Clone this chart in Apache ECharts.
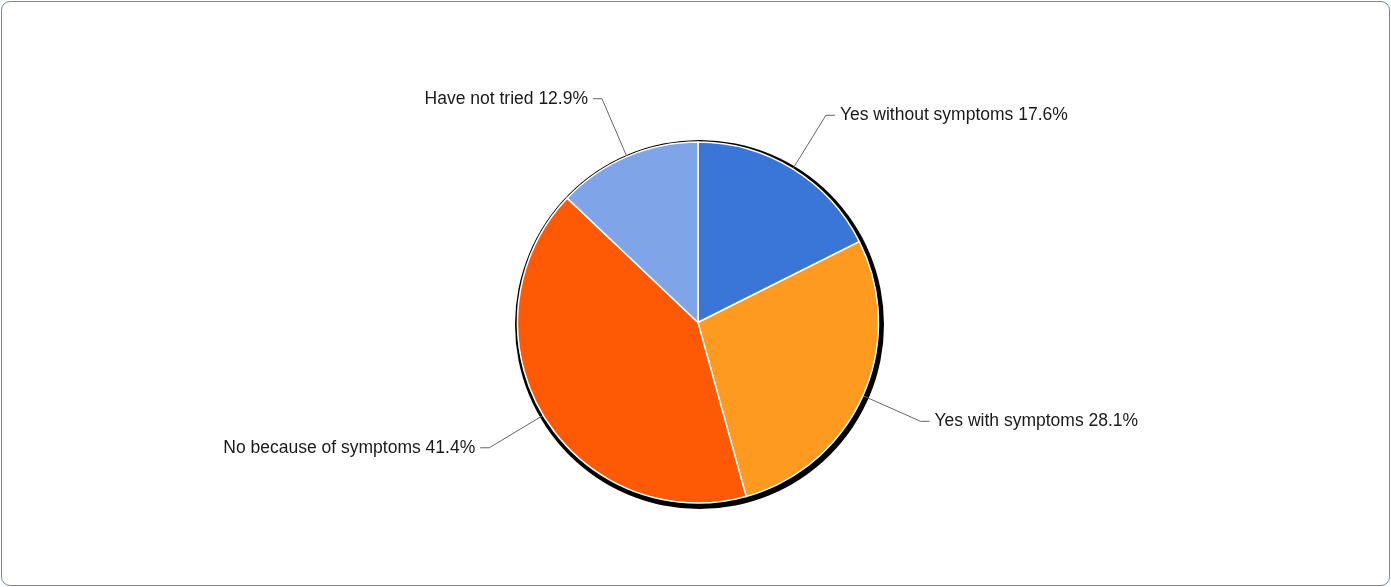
<!DOCTYPE html>
<html>
<head>
<meta charset="utf-8">
<script src="https://cdn.jsdelivr.net/npm/echarts@6/dist/echarts.min.js"></script>
<style>
  html, body { margin: 0; padding: 0; background: #fff; }
  #chart {
    position: absolute; left: 1px; top: 1px;
    width: 1387px; height: 583px;
    border: 1px solid #5d8cc8; border-radius: 9px;
  }
</style>
</head>
<body>
<div id="chart"></div>
<script>
  // answers, clockwise from 12 o'clock
  var categories = ['Yes without symptoms', 'Yes with symptoms', 'No because of symptoms', 'Have not tried'];
  var values = [17.6, 28.1, 41.4, 12.9];
  var colors = ['#3a76d8', '#fe9a1f', '#fe5a05', '#7fa4e7'];

  var pieData = categories.map(function (name, i) {
    return { name: name, value: values[i], itemStyle: { color: colors[i] } };
  });

  var chart = echarts.init(document.getElementById('chart'));
  chart.setOption({
    animation: false,
    series: [
      {
        // dark rim / drop shadow disc behind the pie
        type: 'pie',
        silent: true,
        center: [697.5, 322.5],
        radius: 184.5,
        startAngle: 90,
        label: { show: false },
        labelLine: { show: false },
        itemStyle: { color: '#000', borderWidth: 0 },
        data: [{ name: 'shadow', value: 1 }],
        z: 1
      },
      {
        type: 'pie',
        center: [696, 320.5],
        radius: 180.5,
        startAngle: 90,
        clockwise: true,
        z: 2,
        itemStyle: { borderColor: '#fff', borderWidth: 1.5 },
        label: {
          formatter: function (p) { return p.name + ' ' + p.value.toFixed(1) + '%'; },
          fontFamily: 'Liberation Sans, Arial, sans-serif',
          fontSize: 17.5,
          color: '#1a1a1a',
          distanceToLabelLine: 5
        },
        labelLine: {
          length: 63,
          length2: 9,
          lineStyle: { color: '#666', width: 1 }
        },
        data: pieData
      }
    ]
  });
</script>
</body>
</html>
